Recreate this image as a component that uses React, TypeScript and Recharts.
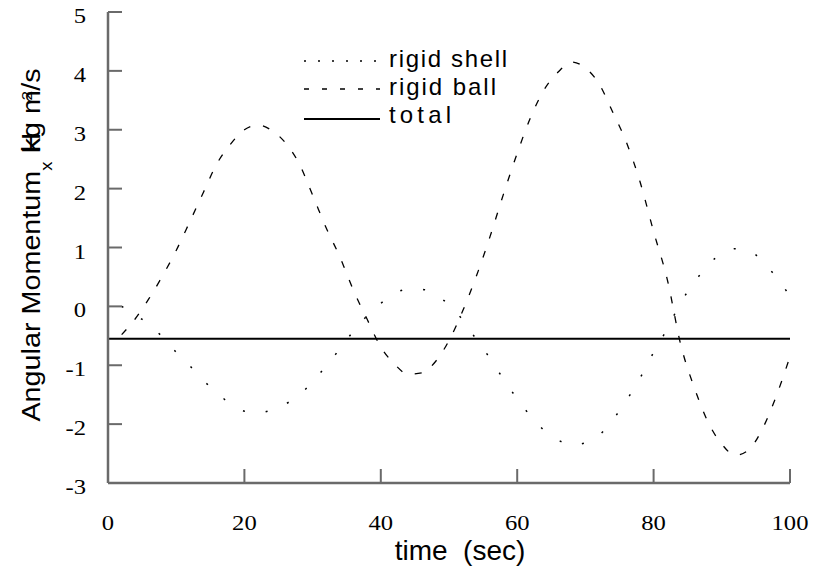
import React from 'react';
import { LineChart, Line, XAxis, YAxis, Legend, Label } from 'recharts';

const timeSec = [0, 2, 4, 6, 8, 10, 12, 14, 16, 18, 20, 22, 24, 26, 28, 30, 32, 34, 36, 38, 40, 42, 44, 46, 48, 50, 52, 54, 56, 58, 60, 62, 64, 66, 68, 70, 72, 74, 76, 78, 80, 82, 84, 86, 88, 90, 92, 94, 96, 98, 100];

const rigidShell = [null, 0.0, -0.14, -0.31, -0.52, -0.78, -1.01, -1.26, -1.47, -1.66, -1.78, -1.81, -1.76, -1.66, -1.51, -1.28, -1.01, -0.72, -0.42, -0.16, 0.05, 0.22, 0.29, 0.29, 0.19, 0.03, -0.23, -0.56, -0.88, -1.24, -1.57, -1.87, -2.11, -2.27, -2.35, -2.32, -2.19, -1.93, -1.6, -1.22, -0.78, -0.38, 0.07, 0.41, 0.71, 0.89, 0.98, 0.94, 0.77, 0.49, 0.18];

const rigidBall = [null, -0.48, -0.21, 0.13, 0.52, 0.95, 1.44, 1.94, 2.43, 2.76, 3.0, 3.08, 2.99, 2.78, 2.43, 1.89, 1.33, 0.84, 0.27, -0.22, -0.69, -0.98, -1.15, -1.13, -0.94, -0.58, -0.08, 0.51, 1.18, 1.91, 2.6, 3.22, 3.69, 3.98, 4.15, 4.05, 3.78, 3.3, 2.79, 2.12, 1.27, 0.46, -0.66, -1.39, -1.97, -2.34, -2.53, -2.43, -2.07, -1.52, -0.85];

const totalMomentum = [-0.55, -0.55, -0.55, -0.55, -0.55, -0.55, -0.55, -0.55, -0.55, -0.55, -0.55, -0.55, -0.55, -0.55, -0.55, -0.55, -0.55, -0.55, -0.55, -0.55, -0.55, -0.55, -0.55, -0.55, -0.55, -0.55, -0.55, -0.55, -0.55, -0.55, -0.55, -0.55, -0.55, -0.55, -0.55, -0.55, -0.55, -0.55, -0.55, -0.55, -0.55, -0.55, -0.55, -0.55, -0.55, -0.55, -0.55, -0.55, -0.55, -0.55, -0.55];

const xTicks = [0, 20, 40, 60, 80, 100];
const yTicks = [-3, -2, -1, 0, 1, 2, 3, 4, 5];

const seriesNames = ['rigid shell', 'rigid ball', 'total'];

const data = timeSec.map((t, i) => ({
  t,
  shell: rigidShell[i],
  ball: rigidBall[i],
  total: totalMomentum[i],
}));

const SERIF = 'Liberation Serif';
const SANS = 'Liberation Sans';
const TICK_GRAY = '#6a6a6a';

const BottomTick = (props: any) => {
  const { x, y, payload } = props;
  return (
    <g>
      <line x1={x} y1={y} x2={x} y2={y - 14} stroke={TICK_GRAY} strokeWidth={2} />
      <text
        transform={`translate(${x},${y + 47}) scale(1.12,1)`}
        x={0}
        y={0}
        textAnchor="middle"
        fill="#000"
        style={{ fontFamily: SERIF, fontSize: 22 }}
      >
        {payload.value}
      </text>
    </g>
  );
};

const LeftTick = (props: any) => {
  const { x, y, payload } = props;
  return (
    <g>
      <line x1={x} y1={y} x2={x + 14} y2={y} stroke={TICK_GRAY} strokeWidth={2} />
      <text
        transform={`translate(${x - 22},${y + 11}) scale(1.12,1)`}
        x={0}
        y={0}
        textAnchor="end"
        fill="#000"
        style={{ fontFamily: SERIF, fontSize: 22 }}
      >
        {payload.value}
      </text>
    </g>
  );
};

const TopTick = (props: any) => {
  const { x, y } = props;
  return <line x1={x} y1={y} x2={x} y2={y + 14} stroke={TICK_GRAY} strokeWidth={2} />;
};

const RightTick = (props: any) => {
  const { x, y } = props;
  return <line x1={x} y1={y} x2={x - 14} y2={y} stroke={TICK_GRAY} strokeWidth={2} />;
};

const YLabel = () => (
  <text
    transform="translate(40,245) rotate(-90) scale(1.15,1)"
    textAnchor="middle"
    fill="#000"
    style={{ whiteSpace: 'pre', fontFamily: SANS, fontSize: 25 }}
  >
    <tspan>Angular Momentum</tspan>
    <tspan style={{ fontSize: 16 }} dy={12}>x</tspan>
    <tspan dy={-12}> H</tspan>
    <tspan dx={-17}>kg m</tspan>
    <tspan style={{ fontSize: 15 }} dx={-9} dy={-8}>2</tspan>
    <tspan dy={8}>/s</tspan>
  </text>
);

const XLabel = () => (
  <text
    x={460}
    y={560}
    textAnchor="middle"
    fill="#000"
    style={{ whiteSpace: 'pre', fontFamily: SANS, fontSize: 28 }}
  >
    time  (sec)
  </text>
);

const legendRows = [
  { name: seriesNames[0], lineY: 61, textY: 67, dash: '2 12', width: 1.5, len: 118 },
  { name: seriesNames[1], lineY: 89, textY: 95, dash: '5 13', width: 1.3, len: 107 },
  { name: seriesNames[2], lineY: 119, textY: 123, dash: undefined, width: 2, len: 62 },
];

const LegendContent = () => (
  <svg width={814} height={140} style={{ display: 'block' }}>
    {legendRows.map((r) => (
      <g key={r.name}>
        <line
          x1={304}
          x2={380}
          y1={r.lineY}
          y2={r.lineY}
          stroke="#000"
          strokeWidth={r.width}
          strokeDasharray={r.dash}
        />
        <text
          x={389}
          y={r.textY}
          fill="#000"
          style={{ fontFamily: SANS, fontSize: 24 }}
          textLength={r.len}
          lengthAdjust="spacing"
        >
          {r.name}
        </text>
      </g>
    ))}
  </svg>
);

export default function App() {
  return (
    <div style={{ position: 'absolute', left: 0, top: 0, background: '#fff' }}>
      <LineChart
        width={814}
        height={567}
        data={data}
        margin={{ top: 12, right: 24, left: 0, bottom: 0 }}
      >
        <XAxis
          dataKey="t"
          type="number"
          domain={[0, 100]}
          ticks={xTicks}
          allowDataOverflow
          height={84}
          tickSize={0}
          tickMargin={0}
          tickLine={false}
          axisLine={{ stroke: TICK_GRAY, strokeWidth: 2.5 }}
          tick={<BottomTick />}
          interval={0}
          label={<Label content={() => <XLabel />} />}
        />
        <XAxis
          xAxisId="top"
          orientation="top"
          dataKey="t"
          type="number"
          domain={[0, 100]}
          ticks={xTicks}
          allowDataOverflow
          height={0}
          tickSize={0}
          tickMargin={0}
          tickLine={false}
          axisLine={{ stroke: '#000', strokeWidth: 2 }}
          tick={<TopTick />}
          interval={0}
        />
        <YAxis
          type="number"
          domain={[-3, 5]}
          ticks={yTicks}
          allowDataOverflow
          width={108}
          tickSize={0}
          tickMargin={0}
          tickLine={false}
          axisLine={{ stroke: TICK_GRAY, strokeWidth: 2.5 }}
          tick={<LeftTick />}
          interval={0}
          label={<Label content={() => <YLabel />} />}
        />
        <YAxis
          yAxisId="right"
          orientation="right"
          type="number"
          domain={[-3, 5]}
          ticks={yTicks}
          allowDataOverflow
          width={0}
          tickSize={0}
          tickMargin={0}
          tickLine={false}
          axisLine={{ stroke: '#000', strokeWidth: 2 }}
          tick={<RightTick />}
          interval={0}
        />
        <Legend
          layout="vertical"
          align="center"
          verticalAlign="middle"
          wrapperStyle={{ position: 'absolute', left: 0, top: 0, width: 814, height: 140 }}
          content={<LegendContent />}
        />
        <Line
          dataKey="shell"
          name={seriesNames[0]}
          type="monotone"
          stroke="#000"
          strokeWidth={1.5}
          strokeDasharray="2 21"
          dot={false}
          isAnimationActive={false}
        />
        <Line
          dataKey="ball"
          name={seriesNames[1]}
          type="monotone"
          stroke="#000"
          strokeWidth={1.3}
          strokeDasharray="7 13"
          dot={false}
          isAnimationActive={false}
        />
        <Line
          dataKey="total"
          name={seriesNames[2]}
          type="linear"
          stroke="#000"
          strokeWidth={2.2}
          dot={false}
          isAnimationActive={false}
        />
      </LineChart>
    </div>
  );
}
